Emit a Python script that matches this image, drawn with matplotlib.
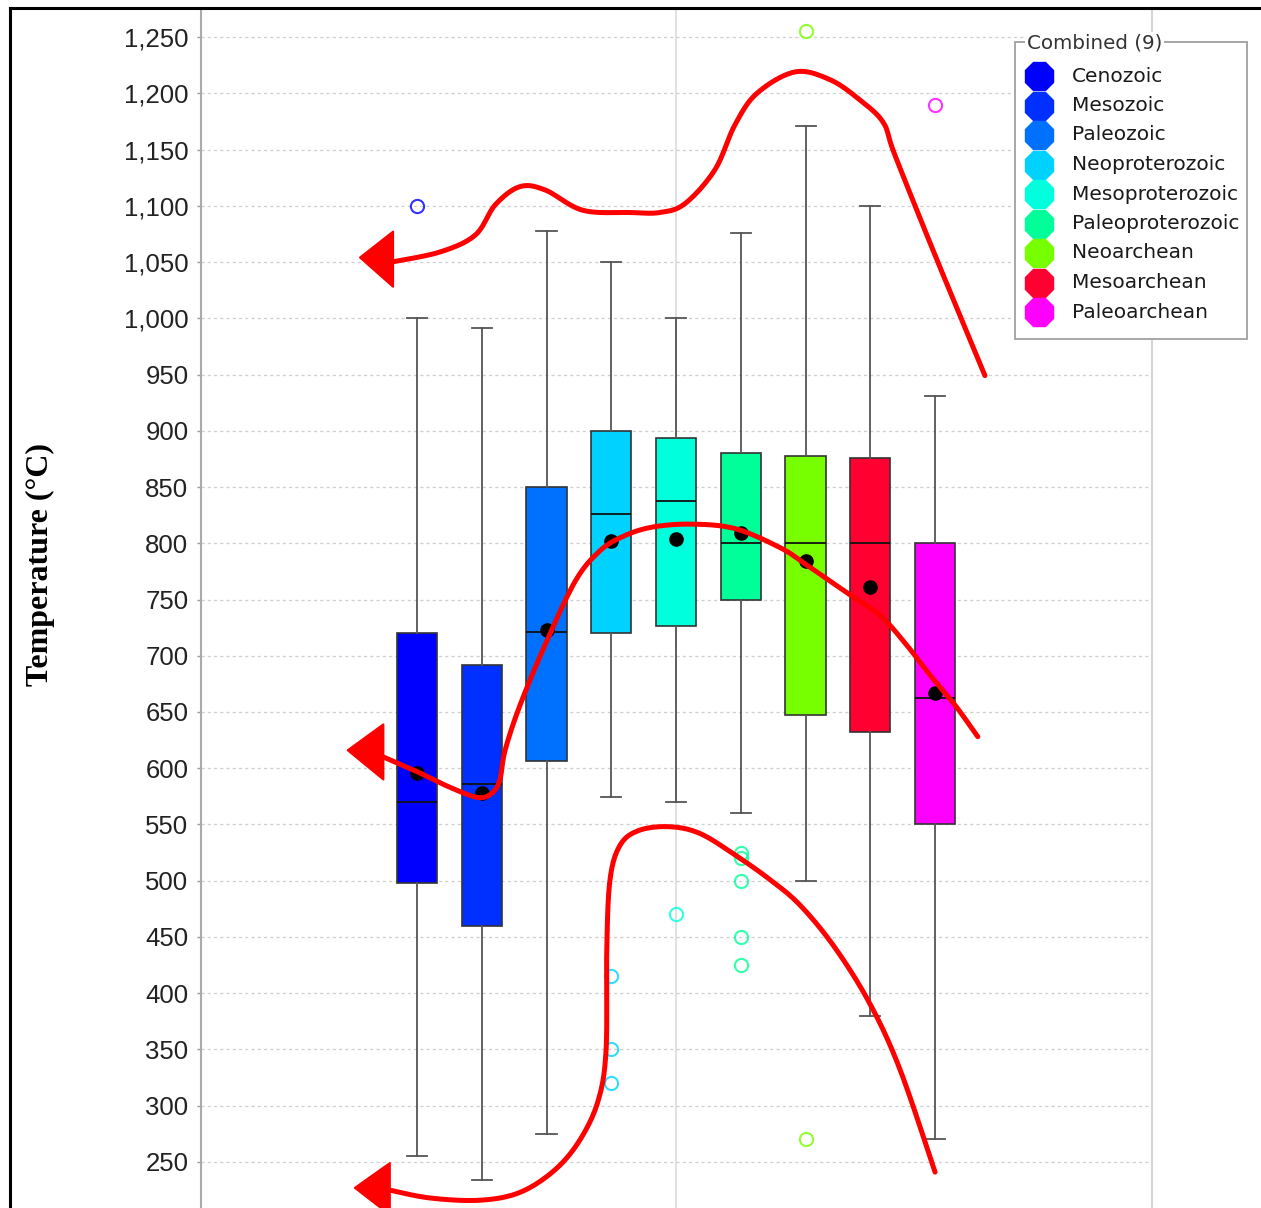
import numpy as np
import matplotlib
matplotlib.use("Agg")
import matplotlib.pyplot as plt
from matplotlib.lines import Line2D
from matplotlib.patches import Polygon, Rectangle
from matplotlib.ticker import FuncFormatter

# ---- data -------------------------------------------------------------
eras = ["Cenozoic", "Mesozoic", "Paleozoic", "Neoproterozoic", "Mesoproterozoic",
        "Paleoproterozoic", "Neoarchean", "Mesoarchean", "Paleoarchean"]
colors = ["#0000FF", "#0030FF", "#0070FF", "#00D2FF", "#00FFDC",
          "#00FF99", "#77FF00", "#FF0030", "#FF00FF"]
whislo = [255, 234, 275, 574, 570, 560, 500, 380, 270]
q1 = [498, 460, 606, 720, 726, 750, 647, 632, 550]
med = [570, 586, 721, 826, 838, 800, 800, 800, 662]
q3 = [720, 692, 850, 900, 894, 880, 878, 876, 800]
whishi = [1000, 991, 1078, 1050, 1000, 1076, 1171, 1100, 931]
means = [596, 578, 723, 802, 804, 809, 784, 761, 667]
outliers = [[1100], [], [], [415, 350, 320], [470],
            [525, 520, 500, 450, 425], [1255, 270], [], [1190]]
yticks = list(range(250, 1251, 50))

# hand-drawn trend strokes (category position, temperature)
upper_stroke_x = [0.61, 1.36, 1.90, 2.21, 2.59, 2.98, 3.56, 4.29, 4.75, 5.14,
                  5.60, 5.91, 6.25, 6.84, 7.38, 7.84, 8.20, 8.38, 9.00, 9.77]
upper_stroke_y = [1050, 1059, 1074, 1101, 1117, 1114, 1096, 1094, 1094, 1102,
                  1132, 1172, 1200, 1219, 1212, 1194, 1174, 1145, 1056, 949]
middle_stroke_x = [0.48, 1.00, 1.51, 1.94, 2.16, 2.28, 2.36, 2.59, 2.98, 3.44,
                   3.80, 4.14, 4.60, 5.22, 5.91, 6.61, 7.01, 7.69, 8.15, 8.54,
                   8.92, 9.31, 9.66]
middle_stroke_y = [610, 597, 583, 574, 578, 590, 616, 656, 710, 766,
                   792, 805, 814, 817, 813, 796, 781, 754, 736, 711,
                   683, 656, 628]
lower_stroke_x = [0.58, 1.20, 1.97, 2.59, 3.13, 3.52, 3.80, 3.92, 3.93, 3.98,
                  4.14, 4.44, 4.91, 5.37, 5.91, 6.45, 6.92, 7.46, 8.00, 8.46, 9.00]
lower_stroke_y = [225, 218, 216, 223, 243, 270, 305, 350, 438, 501,
                  532, 545, 548, 542, 523, 501, 478, 440, 390, 332, 241]
upper_head = [(0.12, 1054), (0.63, 1077), (0.63, 1028)]
middle_head = [(-0.07, 616), (0.48, 639), (0.48, 590)]
lower_head = [(0.04, 227), (0.58, 249), (0.58, 203)]


def smooth(xs, ys, n=12):
    """Catmull-Rom curve through the given points."""
    p = np.column_stack([xs, ys]).astype(float)
    p = np.vstack([p[0], p, p[-1]])
    out = []
    for i in range(1, len(p) - 2):
        p0, p1, p2, p3 = p[i - 1], p[i], p[i + 1], p[i + 2]
        for t in np.linspace(0, 1, n, endpoint=False):
            t2, t3 = t * t, t * t * t
            out.append(0.5 * ((2 * p1) + (-p0 + p2) * t +
                              (2 * p0 - 5 * p1 + 4 * p2 - p3) * t2 +
                              (-p0 + 3 * p1 - 3 * p2 + p3) * t3))
    out.append(p[-2])
    out = np.array(out)
    return out[:, 0], out[:, 1]


# ---- figure -----------------------------------------------------------
W, H = 1261, 1208
fig = plt.figure(figsize=(W / 100, H / 100), dpi=100)
ax = fig.add_axes([201 / W, 0, (1152 - 201) / W, 1 - 9 / H])

positions = np.arange(1, len(eras) + 1)
stats = []
for i, name in enumerate(eras):
    stats.append(dict(label=name, med=med[i], q1=q1[i], q3=q3[i],
                      whislo=whislo[i], whishi=whishi[i], mean=means[i],
                      fliers=np.array(outliers[i], dtype=float)))

bp = ax.bxp(stats, positions=positions, widths=0.62, patch_artist=True,
            showmeans=True, showfliers=True,
            boxprops=dict(edgecolor="#333333", linewidth=1.2),
            medianprops=dict(color="#111111", linewidth=1.3),
            whiskerprops=dict(color="#555555", linewidth=1.3),
            capprops=dict(color="#555555", linewidth=1.3),
            meanprops=dict(marker="o", markerfacecolor="black",
                           markeredgecolor="black", markersize=9.5),
            zorder=3)
for patch, c in zip(bp["boxes"], colors):
    patch.set_facecolor(c)
for fl, c in zip(bp["fliers"], colors):
    fl.set(marker="o", markerfacecolor="none", markeredgecolor=c,
           markersize=9.5, markeredgewidth=1.5, alpha=0.8)

ax.set_xlim(-2.336, 12.35)
ax.set_ylim(209.1, 1274.9)

# grid
ax.set_yticks(yticks)
ax.yaxis.grid(True, color="#cfcfcf", linestyle=(0, (2.5, 2.5)), linewidth=0.9, zorder=0)
ax.axvline(5.0, color="#dddddd", linewidth=1.3, zorder=0)
ax.set_axisbelow(True)

ax.set_xticks([])
ax.yaxis.set_major_formatter(FuncFormatter(lambda v, _: f"{int(v):,}"))
ax.tick_params(axis="y", length=3, width=1, color="#999999", pad=6,
               labelsize=18.5, labelcolor="#222222")
for lab in ax.get_yticklabels():
    lab.set_fontfamily("Liberation Sans")
for s in ("top", "bottom"):
    ax.spines[s].set_visible(False)
ax.spines["left"].set_color("#aaaaaa")
ax.spines["left"].set_linewidth(1.5)
ax.spines["right"].set_color("#d5d5d5")
ax.spines["right"].set_linewidth(1.5)

# annotation strokes with arrowheads
for xs, ys, head in ((upper_stroke_x, upper_stroke_y, upper_head),
                     (middle_stroke_x, middle_stroke_y, middle_head),
                     (lower_stroke_x, lower_stroke_y, lower_head)):
    sx, sy = smooth(xs, ys)
    ax.plot(sx, sy, color="#FF0000", linewidth=3.6, solid_capstyle="round",
            solid_joinstyle="round", zorder=6)
    ax.add_patch(Polygon(head, closed=True, facecolor="#FF0000",
                         edgecolor="#FF0000", linewidth=1.5, joinstyle="round",
                         zorder=6))

# y label
fig.text(40 / W, 1 - 565 / H, "Temperature (°C)", rotation=90, ha="center",
         va="center", fontsize=23, fontweight="bold", family="Liberation Serif")


def fx(px):
    return px / W


def fy(py):
    return 1 - py / H


# legend with titled border
fig.add_artist(Rectangle((fx(1015), fy(339)), fx(1247) - fx(1015), fy(42) - fy(339),
                         transform=fig.transFigure, facecolor="white",
                         edgecolor="#a0a0a0", linewidth=1.3, zorder=7))
fig.text(fx(1027), fy(43), "Combined (9)", ha="left", va="center", fontsize=14.3,
         color="#333333", family="DejaVu Sans", zorder=8,
         bbox=dict(facecolor="white", edgecolor="none", pad=1.5))
for i, (name, c) in enumerate(zip(eras, colors)):
    yy = 76 + i * 29.5
    fig.add_artist(Line2D([fx(1039)], [fy(yy)], marker="8", markersize=21.5,
                          markerfacecolor=c, markeredgecolor=c,
                          transform=fig.transFigure, zorder=8))
    fig.text(fx(1072), fy(yy), name, ha="left", va="center", fontsize=14.5,
             color="#1a1a1a", family="DejaVu Sans", zorder=8)

# outer frame
fig.add_artist(Line2D([fx(10), 1], [fy(8), fy(8)], color="black", linewidth=2.2,
                      transform=fig.transFigure, zorder=9))
fig.add_artist(Line2D([fx(10), fx(10)], [0, fy(8)], color="black", linewidth=2.2,
                      transform=fig.transFigure, zorder=9))

fig.savefig("out.png", dpi=100)
